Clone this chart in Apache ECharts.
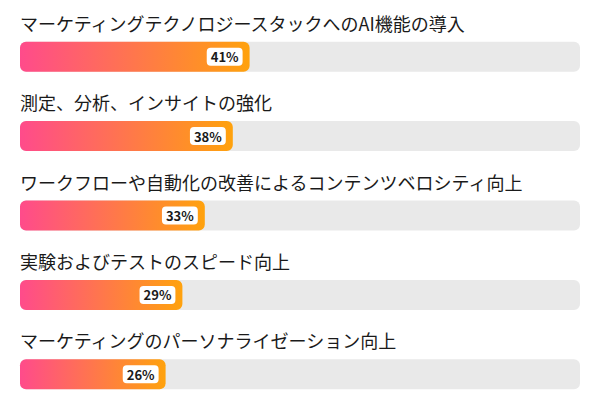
<!DOCTYPE html>
<html>
<head>
<meta charset="utf-8">
<script src="https://cdn.jsdelivr.net/npm/echarts@6/dist/echarts.min.js"></script>
<style>
  html, body { margin: 0; padding: 0; background: #fff; overflow: hidden; }
  #chart { width: 600px; height: 430px; }
</style>
</head>
<body>
<div id="chart"></div>
<script>
var categories = [
  'マーケティングテクノロジースタックへのAI機能の導入',
  '測定、分析、インサイトの強化',
  'ワークフローや自動化の改善によるコンテンツベロシティ向上',
  '実験およびテストのスピード向上',
  'マーケティングのパーソナライゼーション向上'
];
var values = [41, 38, 33, 29, 26];

(function() {
  var font = '"Noto Sans CJK JP", "Noto Sans", sans-serif';
  var chart = echarts.init(document.getElementById('chart'), null, {renderer: 'svg'});
  chart.setOption({
    animation: false,
    grid: {left: 20, right: 20, top: 17, height: 397, containLabel: false},
    xAxis: {type: 'value', min: 0, max: 100, show: false},
    yAxis: {type: 'category', data: categories, inverse: true, show: false},
    series: [{
      type: 'bar',
      data: values,
      barWidth: 30,
      showBackground: true,
      backgroundStyle: {color: '#e9e9e9', borderRadius: 6},
      itemStyle: {
        borderRadius: 6,
        color: new echarts.graphic.LinearGradient(0, 0, 1, 0, [
          {offset: 0, color: '#ff4b8b'},
          {offset: 1, color: '#ffa20d'}
        ])
      },
      label: {
        show: true,
        position: 'insideRight',
        distance: 7,
        formatter: '{c}%',
        backgroundColor: '#fff',
        borderRadius: 4,
        padding: [3, 4, 2, 4],
        color: '#1a1a1a',
        fontWeight: 'bold',
        fontSize: 13,
        fontFamily: font
      }
    }, {
      // category names drawn above each bar
      type: 'bar',
      data: values,
      barWidth: 30,
      barGap: '-100%',
      silent: true,
      itemStyle: {color: 'transparent'},
      label: {
        show: true,
        position: [0, -19],
        verticalAlign: 'middle',
        align: 'left',
        formatter: function(p) { return p.name; },
        color: '#1a1a1a',
        fontSize: 18,
        fontFamily: font
      }
    }]
  });
})();
</script>
</body>
</html>
